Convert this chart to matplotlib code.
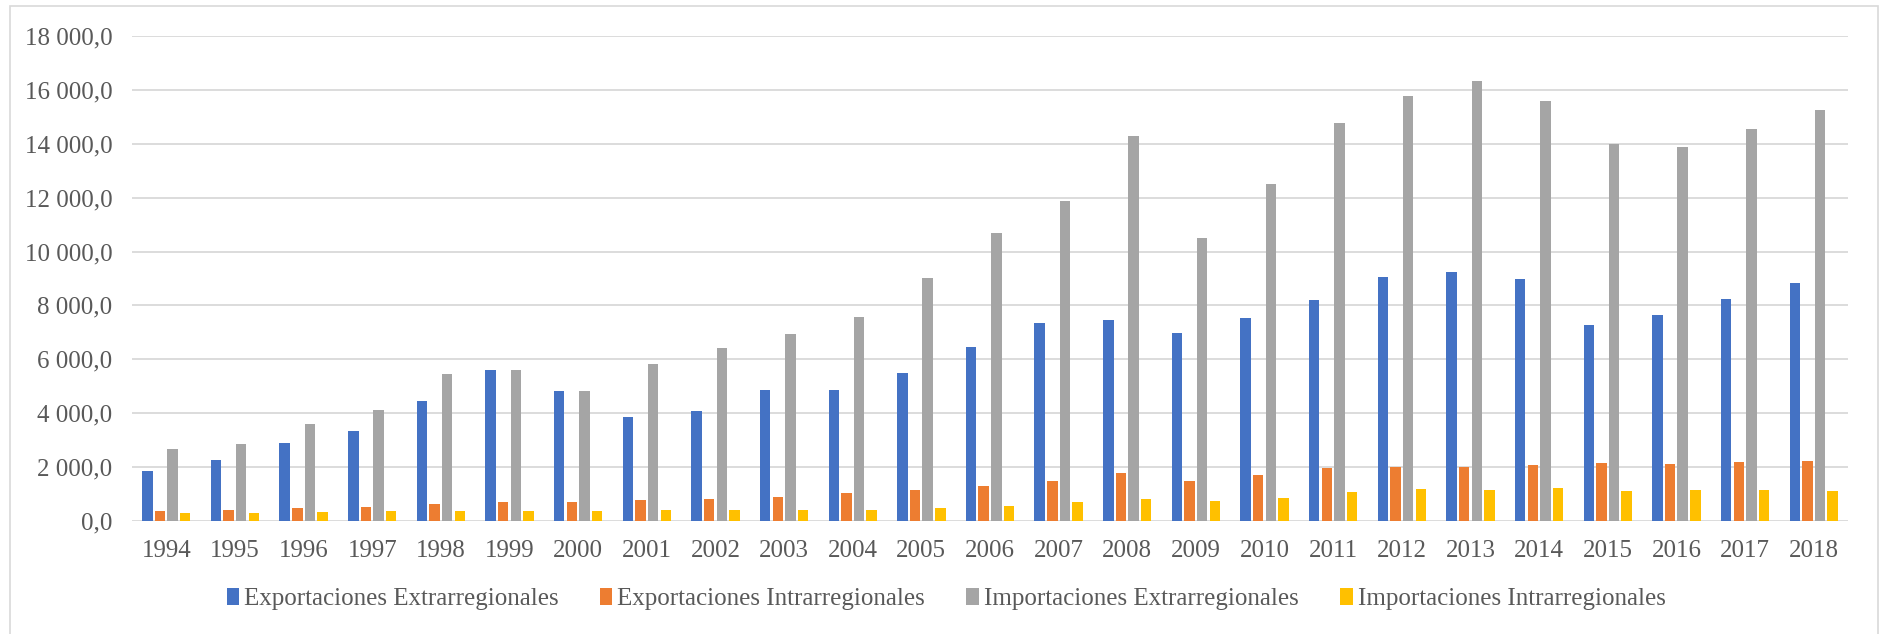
import matplotlib.pyplot as plt
import matplotlib.patches as patches
import numpy as np
from matplotlib.ticker import FuncFormatter

# Comercio por año (millones), cuatro series
anios = list(range(1994, 2019))
exp_extra = [1870, 2257, 2877, 3336, 4453, 5594, 4812, 3870, 4094, 4864, 4876, 5509, 6452, 7357,
             7460, 6974, 7520, 8209, 9068, 9250, 8964, 7270, 7636, 8230, 8836]
exp_intra = [361, 397, 471, 521, 620, 695, 695, 781, 806, 893, 1030, 1141, 1290, 1489,
             1785, 1496, 1691, 1952, 2017, 2017, 2069, 2141, 2116, 2190, 2240]
imp_extra = [2671, 2853, 3597, 4118, 5470, 5619, 4837, 5829, 6427, 6935, 7556, 9032, 10707, 11861,
             14300, 10487, 12516, 14767, 15768, 16315, 15573, 14010, 13886, 14554, 15272]
imp_intra = [297, 298, 335, 372, 384, 360, 360, 397, 422, 422, 397, 471, 558, 707,
             825, 742, 859, 1067, 1197, 1145, 1223, 1126, 1163, 1163, 1126]

series = [exp_extra, exp_intra, imp_extra, imp_intra]
nombres = ['Exportaciones Extrarregionales', 'Exportaciones Intrarregionales',
           'Importaciones Extrarregionales', 'Importaciones Intrarregionales']
colores = ['#4472C4', '#ED7D31', '#A5A5A5', '#FFC000']

W, H = 1887, 634
fig = plt.figure(figsize=(W / 100, H / 100), dpi=100)
plt.rcParams['font.family'] = 'Liberation Serif'

# marco gris alrededor del gráfico
fig.patches.append(patches.Rectangle((10 / W, -0.02), (1878 - 10) / W, 1 - 6 / H + 0.02,
                                     transform=fig.transFigure, fill=False,
                                     edgecolor='#D9D9D9', lw=1.2))

ax = fig.add_axes([132 / W, 1 - 521 / H, (1848 - 132) / W, (521 - 36) / H])

x = np.arange(len(anios))
paso = 0.184
ancho = 0.152
for i, (vals, nom, col) in enumerate(zip(series, nombres, colores)):
    ax.bar(x + (i - 1.5) * paso, vals, width=ancho, color=col, label=nom, zorder=3)

ax.set_xlim(-0.5, len(anios) - 0.5)
ax.set_ylim(0, 18000)
ax.set_yticks(np.arange(0, 18001, 2000))
ax.yaxis.set_major_formatter(FuncFormatter(lambda v, p: f'{v:,.1f}'.replace(',', ' ').replace('.', ',')))
ax.set_xticks(x)
ax.set_xticklabels([str(a) for a in anios])
ax.grid(axis='y', color='#D9D9D9', lw=1.3, zorder=0)
for s in ax.spines.values():
    s.set_visible(False)
ax.tick_params(axis='both', length=0, labelsize=18, labelcolor='#595959')
ax.tick_params(axis='y', pad=14)
ax.tick_params(axis='x', pad=14)

fig.legend(loc='center', bbox_to_anchor=(946 / W, 1 - 599 / H), ncol=4, frameon=False,
           fontsize=18, labelcolor='#595959', handlelength=0.5, handleheight=0.7,
           handletextpad=0.2, columnspacing=1.65)

fig.savefig('out.png', dpi=100)
